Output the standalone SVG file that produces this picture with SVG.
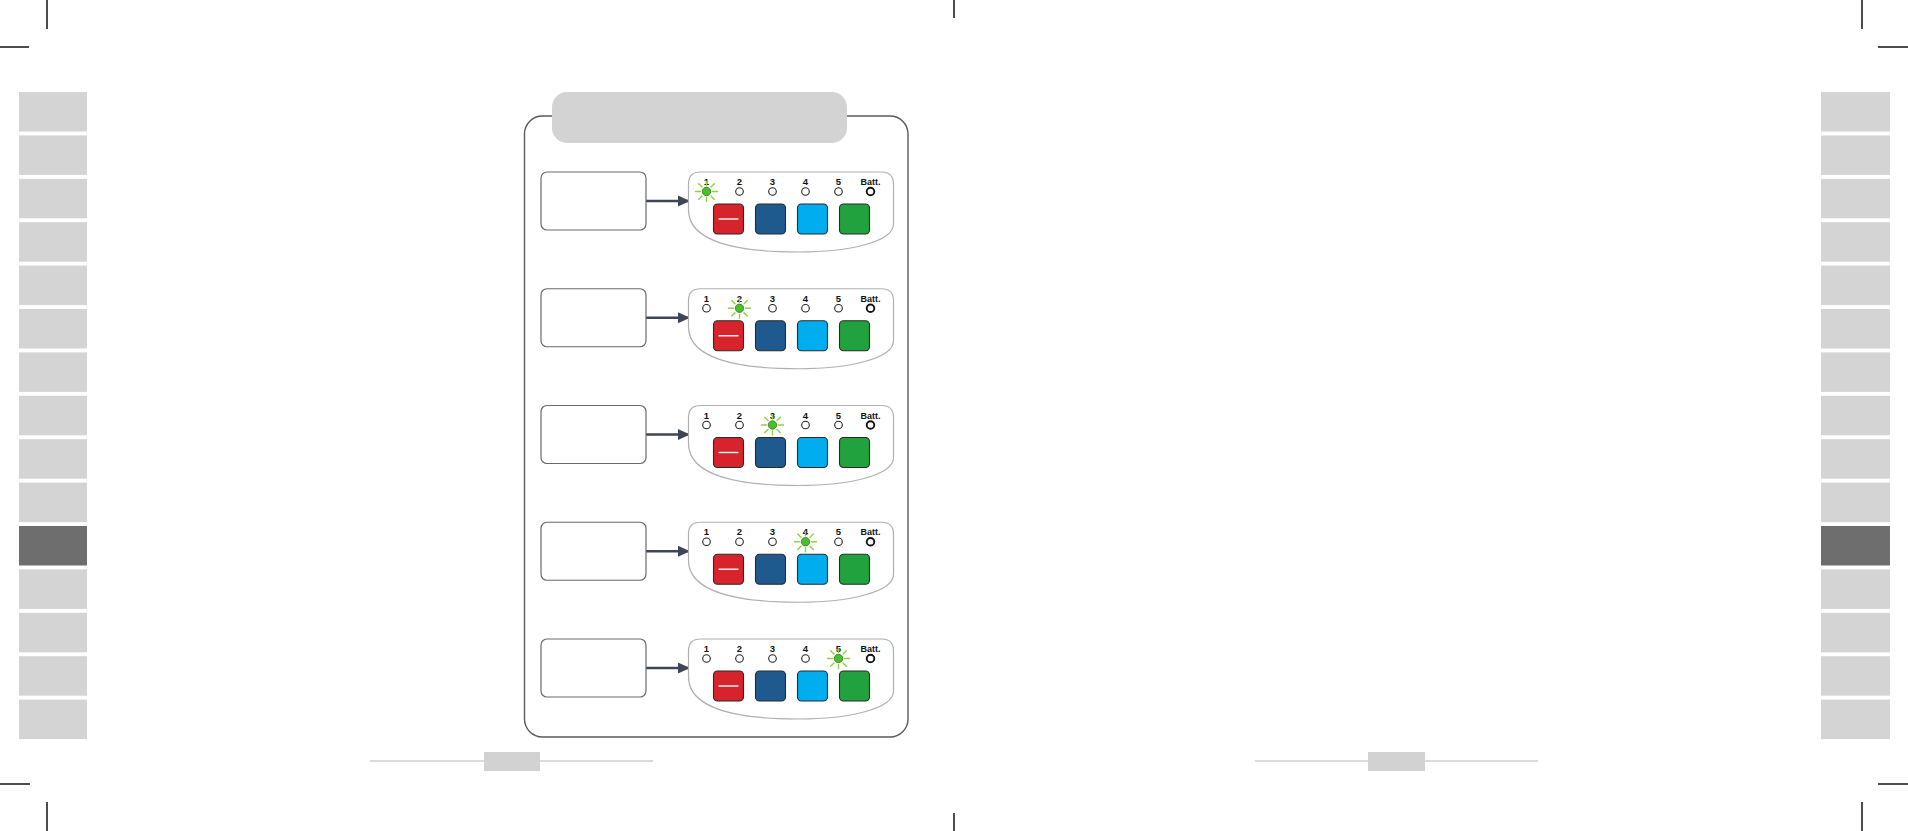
<svg xmlns="http://www.w3.org/2000/svg" xmlns:xlink="http://www.w3.org/1999/xlink" width="1908" height="831" viewBox="0 0 1908 831">
<style>
.crop{stroke:#000;stroke-width:1.4;fill:none}
.tab{fill:#d4d4d4}
.tabd{fill:#6e6e6e}
.pline{stroke:#cfcfcf;stroke-width:1.4}
.pnum{fill:#d2d2d2}
.frame{fill:#fff;stroke:#5a5a5a;stroke-width:1.4}
.hdr{fill:#d3d3d3}
.box{fill:#fff;stroke:#6a6a6a;stroke-width:1.2}
.panel{fill:#fff;stroke:#b0b0b0;stroke-width:1.2}
.lbl{font-family:"Liberation Sans",Arial,sans-serif;font-weight:bold;font-size:9.5px;fill:#111;text-anchor:middle}
.led{fill:#fff;stroke:#222;stroke-width:1.1}
.ledb{fill:#fff;stroke:#111;stroke-width:1.9}
.on{fill:#4cbf2f;stroke:#2c7a1e;stroke-width:0.8}
.ray{stroke:#8fd23e;stroke-width:1.4;stroke-linecap:round}
.btn{stroke:#2a2a2a;stroke-width:1.1}
.conn{stroke:#3d4556;stroke-width:2.6;fill:none}
</style>
<defs>
<marker id="ah" markerWidth="12" markerHeight="12" refX="10" refY="6" orient="auto" markerUnits="userSpaceOnUse" viewBox="0 0 12 12">
<path d="M0,0.5 L12,6 L0,11.5 Z" fill="#3d4556"/>
</marker>
<g id="glow">
<g class="ray">
<line x1="0" y1="-6" x2="0" y2="-10"/><line x1="0" y1="6" x2="0" y2="10"/>
<line x1="-6" y1="0" x2="-11" y2="0"/><line x1="6" y1="0" x2="11" y2="0"/>
<line x1="-4.5" y1="-4.5" x2="-7.8" y2="-7.8"/><line x1="4.5" y1="-4.5" x2="7.8" y2="-7.8"/>
<line x1="-4.5" y1="4.5" x2="-7.8" y2="7.8"/><line x1="4.5" y1="4.5" x2="7.8" y2="7.8"/>
</g>
<circle r="4.2" class="on"/>
</g>
<g id="panelbase">
<path class="panel" d="M12,0 H193 Q205,0 205,12 V52 C205,70 160,80 110,80 C50,80 0,70 0,38 V12 Q0,0 12,0 Z"/>
<text class="lbl" x="18" y="13">1</text>
<text class="lbl" x="51" y="13">2</text>
<text class="lbl" x="84" y="13">3</text>
<text class="lbl" x="117" y="13">4</text>
<text class="lbl" x="150" y="13">5</text>
<text class="lbl" x="182" y="13" style="font-size:9px">Batt.</text>
<circle class="ledb" cx="182" cy="19.5" r="3.8"/>
<rect class="btn" x="25" y="32" width="30" height="30" rx="4" fill="#d7232b"/>
<line x1="30" y1="47" x2="50" y2="47" stroke="#fff" stroke-width="1.4"/>
<rect class="btn" x="67" y="32" width="30" height="30" rx="4" fill="#1e5a8e"/>
<rect class="btn" x="109" y="32" width="30" height="30" rx="4" fill="#00adee"/>
<rect class="btn" x="151" y="32" width="30" height="30" rx="4" fill="#21a23e"/>
</g>
</defs>
<rect width="1908" height="831" fill="#fff"/>
<g id="cropmarks">
<line class="crop" x1="47" y1="0" x2="47" y2="29"/>
<line class="crop" x1="0" y1="47" x2="29" y2="47"/>
<line class="crop" x1="0" y1="784" x2="30" y2="784"/>
<line class="crop" x1="47" y1="802" x2="47" y2="831"/>
<line class="crop" x1="1862" y1="0" x2="1862" y2="29"/>
<line class="crop" x1="1878" y1="47" x2="1908" y2="47"/>
<line class="crop" x1="1878" y1="784" x2="1908" y2="784"/>
<line class="crop" x1="1862" y1="802" x2="1862" y2="831"/>
<line class="crop" x1="954" y1="0" x2="954" y2="18"/>
<line class="crop" x1="954" y1="813" x2="954" y2="831"/>
</g>
<g id="tabs-left">
<rect class="tab" x="19" y="92" width="68" height="39.5"/>
<rect class="tab" x="19" y="135.4" width="68" height="39.5"/>
<rect class="tab" x="19" y="178.8" width="68" height="39.5"/>
<rect class="tab" x="19" y="222.2" width="68" height="39.5"/>
<rect class="tab" x="19" y="265.6" width="68" height="39.5"/>
<rect class="tab" x="19" y="309" width="68" height="39.5"/>
<rect class="tab" x="19" y="352.4" width="68" height="39.5"/>
<rect class="tab" x="19" y="395.8" width="68" height="39.5"/>
<rect class="tab" x="19" y="439.2" width="68" height="39.5"/>
<rect class="tab" x="19" y="482.6" width="68" height="39.5"/>
<rect class="tabd" x="19" y="526" width="68" height="39.5"/>
<rect class="tab" x="19" y="569.4" width="68" height="39.5"/>
<rect class="tab" x="19" y="612.8" width="68" height="39.5"/>
<rect class="tab" x="19" y="656.2" width="68" height="39.5"/>
<rect class="tab" x="19" y="699.6" width="68" height="39.5"/>
</g>
<g id="tabs-right">
<rect class="tab" x="1821" y="92" width="69" height="39.5"/>
<rect class="tab" x="1821" y="135.4" width="69" height="39.5"/>
<rect class="tab" x="1821" y="178.8" width="69" height="39.5"/>
<rect class="tab" x="1821" y="222.2" width="69" height="39.5"/>
<rect class="tab" x="1821" y="265.6" width="69" height="39.5"/>
<rect class="tab" x="1821" y="309" width="69" height="39.5"/>
<rect class="tab" x="1821" y="352.4" width="69" height="39.5"/>
<rect class="tab" x="1821" y="395.8" width="69" height="39.5"/>
<rect class="tab" x="1821" y="439.2" width="69" height="39.5"/>
<rect class="tab" x="1821" y="482.6" width="69" height="39.5"/>
<rect class="tabd" x="1821" y="526" width="69" height="39.5"/>
<rect class="tab" x="1821" y="569.4" width="69" height="39.5"/>
<rect class="tab" x="1821" y="612.8" width="69" height="39.5"/>
<rect class="tab" x="1821" y="656.2" width="69" height="39.5"/>
<rect class="tab" x="1821" y="699.6" width="69" height="39.5"/>
</g>
<g id="footer-left">
<line class="pline" x1="370" y1="761" x2="653" y2="761"/>
<rect class="pnum" x="484" y="752" width="56" height="19"/>
</g>
<g id="footer-right">
<line class="pline" x1="1255" y1="761" x2="1538" y2="761"/>
<rect class="pnum" x="1368" y="752" width="57" height="19"/>
</g>
<g id="frame">
<rect class="frame" x="524.5" y="116" width="383.5" height="621" rx="18"/>
<rect class="hdr" x="552" y="92" width="295" height="51" rx="15"/>
</g>
<g id="connectors">
<line class="conn" x1="646" y1="201" x2="688" y2="201" marker-end="url(#ah)"/>
<line class="conn" x1="646" y1="317.75" x2="688" y2="317.75" marker-end="url(#ah)"/>
<line class="conn" x1="646" y1="434.5" x2="688" y2="434.5" marker-end="url(#ah)"/>
<line class="conn" x1="646" y1="551.25" x2="688" y2="551.25" marker-end="url(#ah)"/>
<line class="conn" x1="646" y1="668" x2="688" y2="668" marker-end="url(#ah)"/>
</g>
<g id="box1"><rect class="box" x="541" y="172" width="105" height="58" rx="6"/></g>
<g id="box2"><rect class="box" x="541" y="288.75" width="105" height="58" rx="6"/></g>
<g id="box3"><rect class="box" x="541" y="405.5" width="105" height="58" rx="6"/></g>
<g id="box4"><rect class="box" x="541" y="522.25" width="105" height="58" rx="6"/></g>
<g id="box5"><rect class="box" x="541" y="639" width="105" height="58" rx="6"/></g>
<g id="panel1" transform="translate(688.5,172)">
<use xlink:href="#panelbase"/>
<use xlink:href="#glow" x="18" y="19.5"/>
<circle class="led" cx="51" cy="19.5" r="3.8"/><circle class="led" cx="84" cy="19.5" r="3.8"/><circle class="led" cx="117" cy="19.5" r="3.8"/><circle class="led" cx="150" cy="19.5" r="3.8"/>
</g>
<g id="panel2" transform="translate(688.5,288.75)">
<use xlink:href="#panelbase"/>
<circle class="led" cx="18" cy="19.5" r="3.8"/>
<use xlink:href="#glow" x="51" y="19.5"/>
<circle class="led" cx="84" cy="19.5" r="3.8"/><circle class="led" cx="117" cy="19.5" r="3.8"/><circle class="led" cx="150" cy="19.5" r="3.8"/>
</g>
<g id="panel3" transform="translate(688.5,405.5)">
<use xlink:href="#panelbase"/>
<circle class="led" cx="18" cy="19.5" r="3.8"/><circle class="led" cx="51" cy="19.5" r="3.8"/>
<use xlink:href="#glow" x="84" y="19.5"/>
<circle class="led" cx="117" cy="19.5" r="3.8"/><circle class="led" cx="150" cy="19.5" r="3.8"/>
</g>
<g id="panel4" transform="translate(688.5,522.25)">
<use xlink:href="#panelbase"/>
<circle class="led" cx="18" cy="19.5" r="3.8"/><circle class="led" cx="51" cy="19.5" r="3.8"/><circle class="led" cx="84" cy="19.5" r="3.8"/>
<use xlink:href="#glow" x="117" y="19.5"/>
<circle class="led" cx="150" cy="19.5" r="3.8"/>
</g>
<g id="panel5" transform="translate(688.5,639)">
<use xlink:href="#panelbase"/>
<circle class="led" cx="18" cy="19.5" r="3.8"/><circle class="led" cx="51" cy="19.5" r="3.8"/><circle class="led" cx="84" cy="19.5" r="3.8"/><circle class="led" cx="117" cy="19.5" r="3.8"/>
<use xlink:href="#glow" x="150" y="19.5"/>
</g>
</svg>
